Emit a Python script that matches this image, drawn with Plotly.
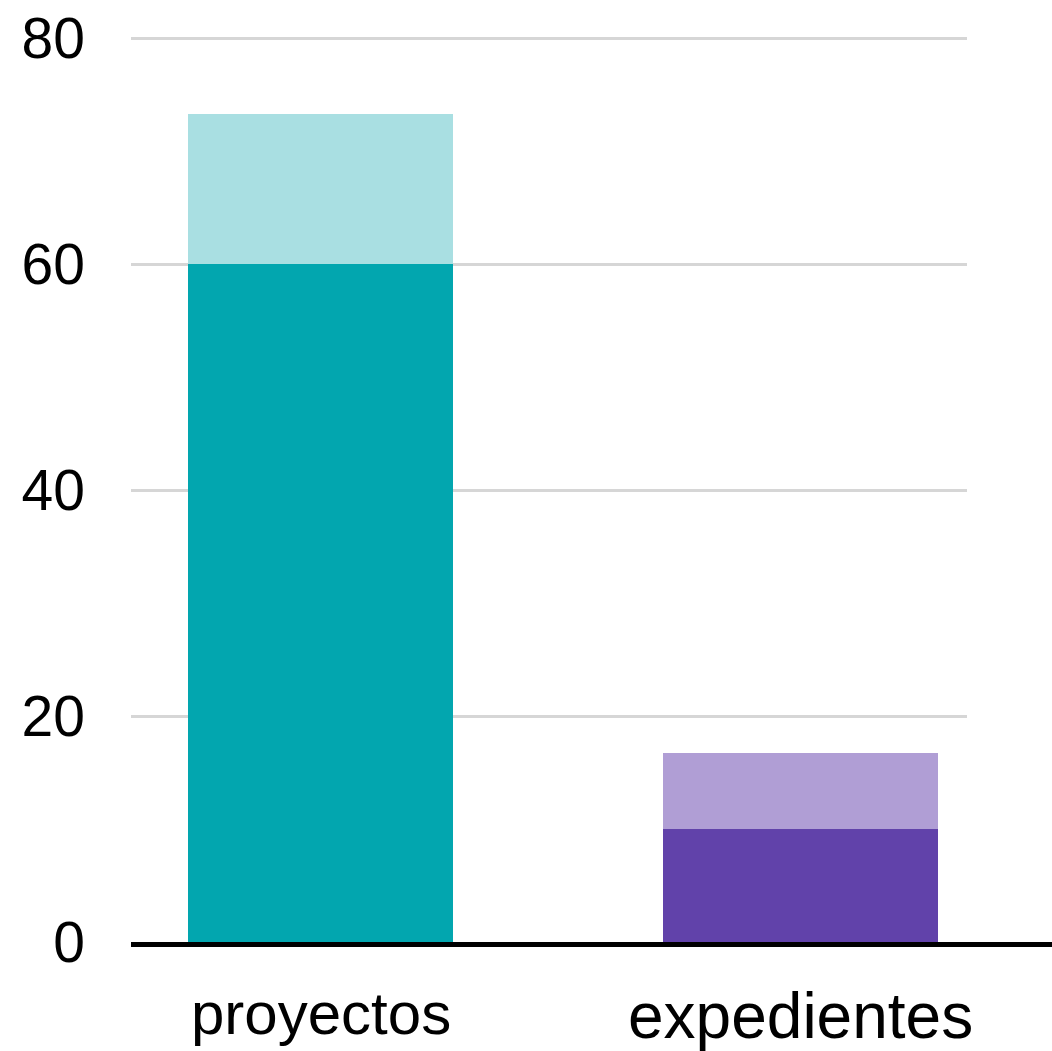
import plotly.graph_objects as go

categories = ["proyectos", "expedientes"]
base_values = [60, 10]
total_values = [73.3, 16.7]
y_ticks = [0, 20, 40, 60, 80]
y_tick_labels = ["0", "20", "40", "60", "80"]

dark_colors = ["#02A6AF", "#6142AA"]
light_colors = ["#A9DFE2", "#B09ED5"]

extra_values = [t - b for t, b in zip(total_values, base_values)]

fig = go.Figure()
fig.add_trace(go.Bar(
    x=categories, y=base_values, width=[0.552, 0.573],
    marker=dict(color=dark_colors, line=dict(width=0)),
    showlegend=False, hoverinfo="skip",
))
fig.add_trace(go.Bar(
    x=categories, y=extra_values, width=[0.552, 0.573],
    marker=dict(color=light_colors, line=dict(width=0)),
    showlegend=False, hoverinfo="skip",
))

font_family = "Helvetica, 'Liberation Sans', Arial, sans-serif"

# category labels below the baseline
label_sizes = [60, 64]
label_shifts = [-36, -36]
for cat, size, shift in zip(categories, label_sizes, label_shifts):
    fig.add_annotation(
        x=cat, y=0, xref="x", yref="y", yanchor="top", xanchor="center",
        yshift=shift, text=cat, showarrow=False,
        font=dict(family=font_family, size=size, color="black"),
    )

# black baseline extending past plot area
fig.add_shape(type="line", xref="paper", yref="paper", x0=0, x1=1.12,
              y0=-0.0028, y1=-0.0028,
              line=dict(color="black", width=5), layer="above")

fig.update_layout(
    width=1052, height=1051,
    margin=dict(l=131, r=85, t=34, b=109, pad=0),
    plot_bgcolor="white", paper_bgcolor="white",
    barmode="stack", bargap=0,
    font=dict(family=font_family, color="black"),
    xaxis=dict(
        type="category", range=[-0.3948, 1.3469], showticklabels=False,
        showgrid=False, zeroline=False, showline=False, ticks="",
        automargin=False,
    ),
    yaxis=dict(
        range=[0, 80.355], tickvals=y_ticks, ticktext=y_tick_labels,
        showgrid=True, gridcolor="#D6D6D6", gridwidth=3,
        zeroline=False, showline=False, ticks="",
        ticklabelstandoff=45, ticklabeloverflow="allow",
        automargin=False,
        tickfont=dict(family=font_family, size=57, color="black"),
    ),
)

fig.write_html(
    "out.html",
    config={"displayModeBar": False},
    post_script="document.body.style.margin='0';document.body.style.overflow='hidden';",
)
